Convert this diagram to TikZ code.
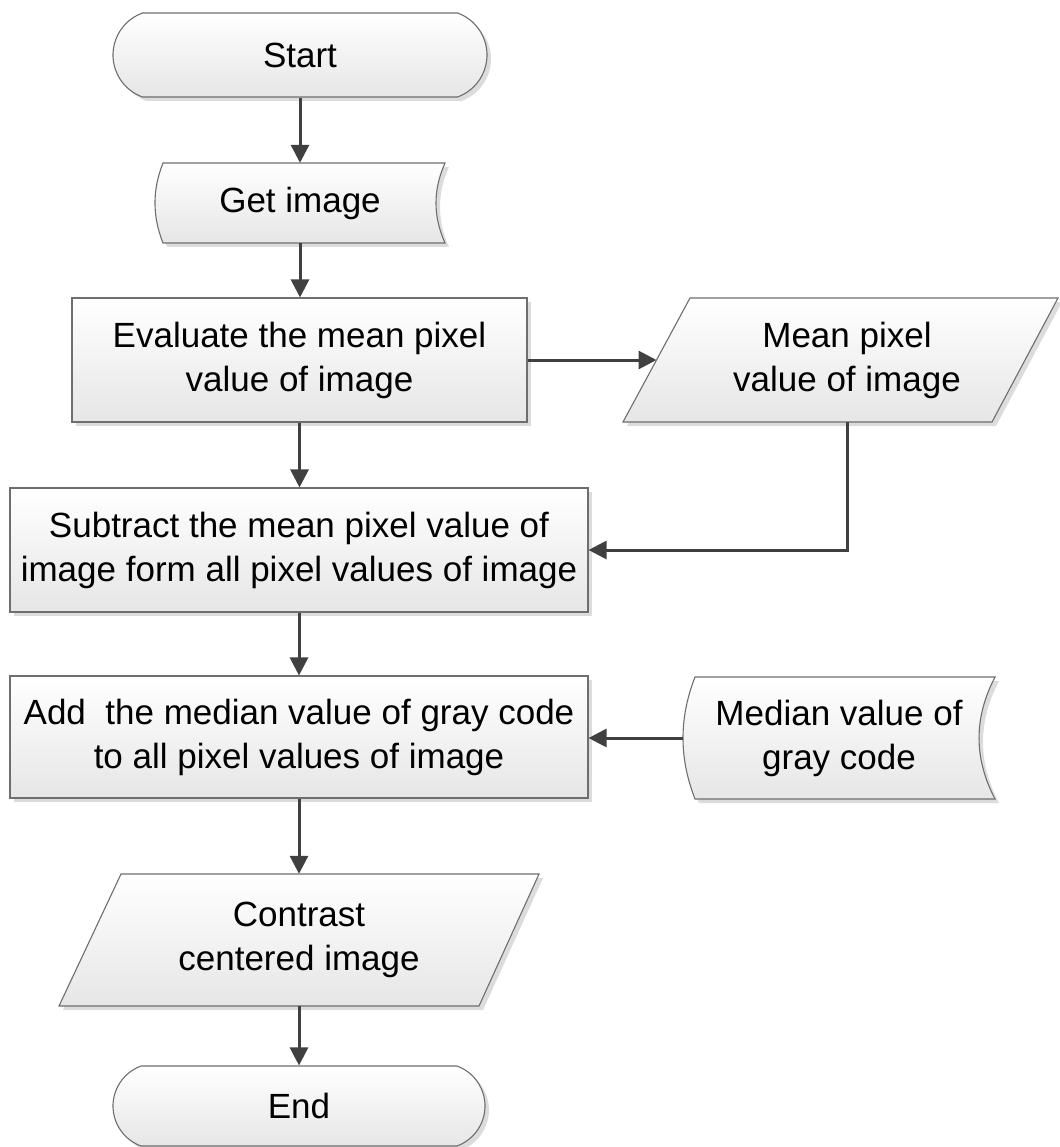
\documentclass[tikz,border=0pt]{standalone}
\usepackage{fontspec}
\setmainfont{Liberation Sans}
\usetikzlibrary{shapes.misc,arrows.meta,shadows}
\definecolor{edgegray}{HTML}{6E6E6E}
\definecolor{arrowgray}{HTML}{404040}
\definecolor{fillbot}{HTML}{E6E6E6}
\definecolor{shadowgray}{HTML}{DCDCDC}
\begin{document}
\begin{tikzpicture}[x=1pt,y=-1pt,
  txt/.style={font=\fontsize{35}{44}\selectfont, align=center, text=black, inner sep=0pt},
  boxfill/.style={top color=white, bottom color=fillbot, draw=edgegray, line width=1.1pt},
  boxshadow/.style={drop shadow={shadow xshift=4pt, shadow yshift=-4pt, fill=shadowgray, opacity=1}},
  procbox/.style={txt, boxfill, boxshadow, rectangle},
  termbox/.style={txt, boxfill, boxshadow, rounded rectangle, rounded rectangle arc length=140},
  areabox/.style={txt, rectangle},
  shadowpath/.style={fill=shadowgray},
  outline/.style={boxfill},
  conn/.style={draw=arrowgray, line width=3pt, -{Triangle[length=18pt,width=18pt]}}
]
\useasboundingbox (0,0) rectangle (1059,1147);

% ---------- custom outlines (shadows first) ----------
% Get image (stored data)
\fill[shadowpath, shift={(4,4)}] (163,163) -- (445,163) .. controls (433,190) and (433,216) .. (445,243) -- (163,243) .. controls (152.3,216) and (152.3,190) .. (163,163) -- cycle;
\path[outline] (163,163) -- (445,163) .. controls (433,190) and (433,216) .. (445,243) -- (163,243) .. controls (152.3,216) and (152.3,190) .. (163,163) -- cycle;
% Mean pixel value (data)
\fill[shadowpath, shift={(4,4)}] (690,298) -- (1058,298) -- (992,422) -- (623,422) -- cycle;
\path[outline] (690,298) -- (1058,298) -- (992,422) -- (623,422) -- cycle;
% Median value (stored data)
\fill[shadowpath, shift={(4,4)}] (695,677) -- (995,677) .. controls (973.7,718) and (973.7,758) .. (995,799) -- (695,799) .. controls (679,758) and (679,718) .. (695,677) -- cycle;
\path[outline] (695,677) -- (995,677) .. controls (973.7,718) and (973.7,758) .. (995,799) -- (695,799) .. controls (679,758) and (679,718) .. (695,677) -- cycle;
% Contrast centered image (data)
\fill[shadowpath, shift={(4,4)}] (121,874) -- (539,874) -- (479,1006) -- (59,1006) -- cycle;
\path[outline] (121,874) -- (539,874) -- (479,1006) -- (59,1006) -- cycle;

% ---------- nodes ----------
\node[termbox, minimum width=374pt, minimum height=84pt] (start) at (300,55) {Start};
\node[areabox, minimum width=290pt, minimum height=80pt] (getimg) at (300,203) {Get image};
\node[procbox, minimum width=455pt, minimum height=124pt] (eval) at (299.5,360) {Evaluate the mean pixel\\value of image};
\node[areabox, minimum width=435pt, minimum height=124pt] (mean) at (847,360) {Mean pixel\\value of image};
\node[procbox, minimum width=578pt, minimum height=124pt] (sub) at (299,550) {Subtract the mean pixel value of\\image form all pixel values of image};
\node[procbox, minimum width=578pt, minimum height=122pt] (add) at (299,737) {Add\ \ the median value of gray code\\to all pixel values of image};
\node[areabox, minimum width=312pt, minimum height=122pt] (median) at (839,738) {Median value of\\gray code};
\node[areabox, minimum width=480pt, minimum height=132pt] (contrast) at (299,940) {Contrast\\centered image};
\node[termbox, minimum width=372pt, minimum height=80pt] (end) at (299,1106) {End};

\coordinate (meanin) at (656.5,360);
\coordinate (meanout) at (847,422);

% ---------- connectors ----------
\draw[conn] (start.south -| getimg.north) -- (getimg.north);
\draw[conn] (getimg.south) -- (getimg.south |- eval.north);
\draw[conn] (eval.east) -- (meanin);
\draw[conn] (eval.south) -- (eval.south |- sub.north);
\draw[conn] (meanout) |- (sub.east);
\draw[conn] (sub.south) -- (add.north);
\draw[conn] (median.west) -- (median.west -| add.east);
\draw[conn] (add.south) -- (add.south |- contrast.north);
\draw[conn] (contrast.south) -- (contrast.south |- end.north);
\end{tikzpicture}
\end{document}
